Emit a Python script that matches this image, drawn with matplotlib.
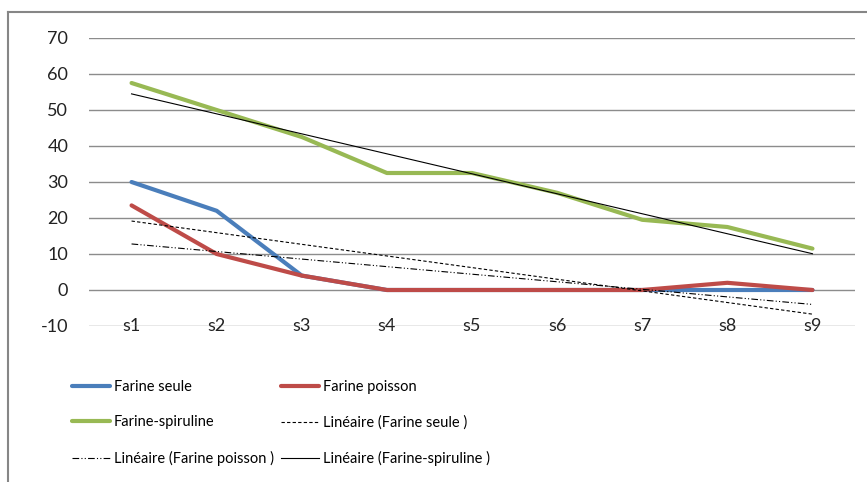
import matplotlib.pyplot as plt
import numpy as np
from matplotlib.lines import Line2D

plt.rcParams['font.family'] = ['Lato', 'DejaVu Sans']
plt.rcParams['axes.unicode_minus'] = False

categories = ['s1', 's2', 's3', 's4', 's5', 's6', 's7', 's8', 's9']
farine_seule = [30, 22, 4, 0, 0, 0, 0, 0, 0]
farine_poisson = [23.5, 10, 4, 0, 0, 0, 0, 2, 0]
farine_spiruline = [57.5, 50, 42.5, 32.5, 32.5, 27, 19.5, 17.5, 11.5]

x = np.arange(1, len(categories) + 1)

fig = plt.figure(figsize=(8.67, 4.82), dpi=100)
ax = fig.add_axes([89/867, 1 - 326/482, (855 - 89)/867, (326 - 38)/482])

# outer chart frame (only left and top visible in the crop)
fig.add_artist(Line2D([8/867, 8/867], [0, 1 - 12/482], transform=fig.transFigure,
                      color='#868686', lw=1.5))
fig.add_artist(Line2D([8/867, 1], [1 - 12/482, 1 - 12/482], transform=fig.transFigure,
                      color='#868686', lw=1.5))

series = [
    ('Farine seule', farine_seule, '#4A7EBB'),
    ('Farine poisson', farine_poisson, '#BE4B48'),
    ('Farine-spiruline', farine_spiruline, '#98B954'),
]
trend_styles = [(0, (3, 2)), (0, (6, 2, 1, 2, 1, 2)), '-']

lines = []
for name, vals, col in series:
    l, = ax.plot(x, vals, color=col, lw=3, solid_capstyle='round', label=name, zorder=3)
    lines.append(l)

# linear trend lines (least squares fit of each series)
trends = []
for (name, vals, col), ls in zip(series, trend_styles):
    k, b = np.polyfit(x, vals, 1)
    t, = ax.plot(x, k * x + b, color='black', lw=0.8, linestyle=ls,
                 label='Linéaire (' + name + ' )', zorder=4)
    trends.append(t)

ax.set_xlim(0.5, 9.5)
ax.set_ylim(-10, 70)
ax.set_yticks(np.arange(-10, 71, 10))
ax.set_xticks(x)
ax.set_xticklabels(categories)
ax.grid(axis='y', color='#8c8c8c', lw=1)
ax.set_axisbelow(True)
for s in ax.spines.values():
    s.set_visible(False)
ax.tick_params(axis='y', length=0, pad=15, labelsize=13, labelcolor='#222222')
ax.tick_params(axis='x', length=0, pad=0, labelsize=13, labelcolor='#222222')
for lab in ax.get_xticklabels():
    lab.set_verticalalignment('center')

handles = [lines[0], lines[2], trends[1], lines[1], trends[0], trends[2]]
leg = fig.legend(handles=handles, labels=[h.get_label() for h in handles], ncol=2,
                 loc='upper left', bbox_to_anchor=(65/867, 1 - 373/482), frameon=False,
                 fontsize=10.5, borderpad=0, handlelength=2.6, handletextpad=0.25,
                 columnspacing=0.5, labelspacing=1.45)

fig.savefig('out.png', dpi=100)
